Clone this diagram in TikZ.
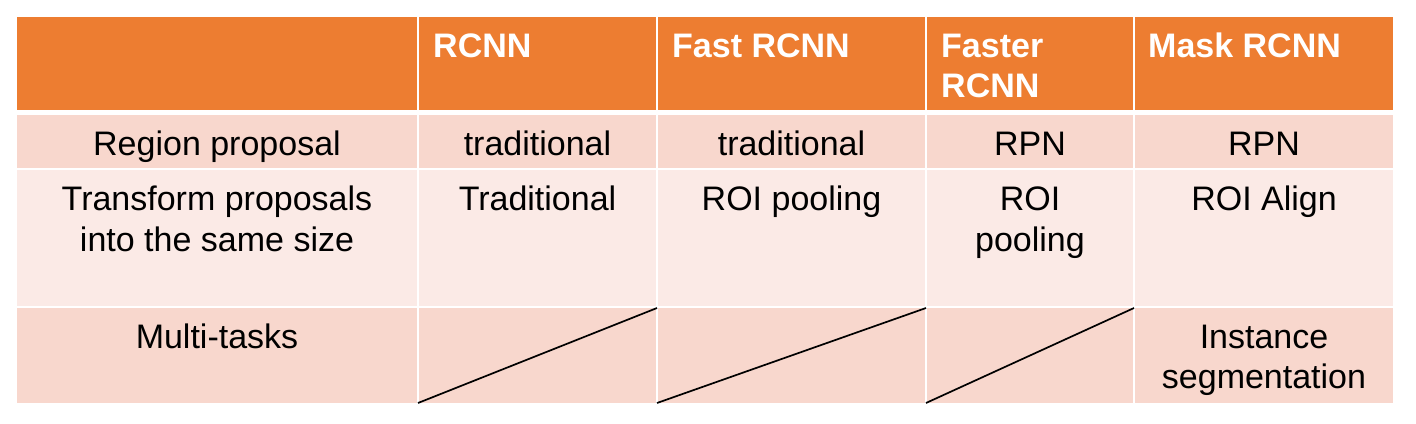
\documentclass[tikz,border=0pt]{standalone}
\usepackage{fontspec}
\setmainfont{Liberation Sans}
\definecolor{hdr}{HTML}{ED7D31}
\definecolor{bandA}{HTML}{F8D7CD}
\definecolor{bandB}{HTML}{FBEAE6}
\begin{document}
\begin{tikzpicture}[x=1pt,y=-1pt,
  cellbox/.style={anchor=north west, inner sep=0pt, outer sep=0pt, draw=none},
  hcell/.style={cellbox, fill=hdr},
  acell/.style={cellbox, fill=bandA},
  bcell/.style={cellbox, fill=bandB},
  htxt/.style={anchor=base west, inner sep=0pt, align=left, text=white,
    font=\fontsize{34}{40.8}\selectfont\bfseries},
  btxt/.style={anchor=base, inner sep=0pt, align=center, text=black,
    font=\fontsize{34}{40.8}\selectfont},
  slash/.style={draw=black, line width=1.7pt}]
\useasboundingbox (0,0) rectangle (1416,423);
% header row
\node[hcell, minimum width=400pt, minimum height=93pt] (h1) at (17,17) {};
\node[hcell, minimum width=237pt, minimum height=93pt] (h2) at (419,17) {};
\node[hcell, minimum width=267pt, minimum height=93pt] (h3) at (658,17) {};
\node[hcell, minimum width=206pt, minimum height=93pt] (h4) at (927,17) {};
\node[hcell, minimum width=258pt, minimum height=93pt] (h5) at (1135,17) {};
% row 1
\node[acell, minimum width=400pt, minimum height=53pt] (a1) at (17,115) {};
\node[acell, minimum width=237pt, minimum height=53pt] (a2) at (419,115) {};
\node[acell, minimum width=267pt, minimum height=53pt] (a3) at (658,115) {};
\node[acell, minimum width=206pt, minimum height=53pt] (a4) at (927,115) {};
\node[acell, minimum width=258pt, minimum height=53pt] (a5) at (1135,115) {};
% row 2
\node[bcell, minimum width=400pt, minimum height=136pt] (b1) at (17,170) {};
\node[bcell, minimum width=237pt, minimum height=136pt] (b2) at (419,170) {};
\node[bcell, minimum width=267pt, minimum height=136pt] (b3) at (658,170) {};
\node[bcell, minimum width=206pt, minimum height=136pt] (b4) at (927,170) {};
\node[bcell, minimum width=258pt, minimum height=136pt] (b5) at (1135,170) {};
% row 3
\node[acell, minimum width=400pt, minimum height=95pt] (c1) at (17,308) {};
\node[acell, minimum width=237pt, minimum height=95pt] (c2) at (419,308) {};
\node[acell, minimum width=267pt, minimum height=95pt] (c3) at (658,308) {};
\node[acell, minimum width=206pt, minimum height=95pt] (c4) at (927,308) {};
\node[acell, minimum width=258pt, minimum height=95pt] (c5) at (1135,308) {};
% header texts (base anchor = baseline of last line)
\node[htxt] (th2) at ([xshift=14pt,yshift=-40pt]h2.north west) {RCNN};
\node[htxt] (th3) at ([xshift=14pt,yshift=-40pt]h3.north west) {Fast RCNN};
\node[htxt] (th4) at ([xshift=14pt,yshift=-80.8pt]h4.north west) {Faster\\RCNN};
\node[htxt] (th5) at ([xshift=13pt,yshift=-40pt]h5.north west) {Mask RCNN};
% row 1 texts
\node[btxt] (ta1) at ([yshift=-40pt]a1.north) {Region proposal};
\node[btxt] (ta2) at ([yshift=-40pt]a2.north) {traditional};
\node[btxt] (ta3) at ([yshift=-40pt]a3.north) {traditional};
\node[btxt] (ta4) at ([yshift=-40pt]a4.north) {RPN};
\node[btxt] (ta5) at ([yshift=-40pt]a5.north) {RPN};
% row 2 texts
\node[btxt] (tb1) at ([yshift=-81.3pt]b1.north) {Transform proposals\\into the same size};
\node[btxt] (tb2) at ([yshift=-40.5pt]b2.north) {Traditional};
\node[btxt] (tb3) at ([yshift=-40.5pt]b3.north) {ROI pooling};
\node[btxt] (tb4) at ([yshift=-81.3pt]b4.north) {ROI\\pooling};
\node[btxt] (tb5) at ([yshift=-40.5pt]b5.north) {ROI Align};
% row 3 texts
\node[btxt] (tc1) at ([yshift=-40pt]c1.north) {Multi-tasks};
\node[btxt] (tc5) at ([yshift=-80.8pt]c5.north) {Instance\\segmentation};
% diagonal slashes
\draw[slash] ([xshift=-1pt]c2.south west) -- ([xshift=1pt]c2.north east);
\draw[slash] ([xshift=-1pt]c3.south west) -- ([xshift=1pt]c3.north east);
\draw[slash] ([xshift=-1pt]c4.south west) -- ([xshift=1pt]c4.north east);
\end{tikzpicture}
\end{document}
